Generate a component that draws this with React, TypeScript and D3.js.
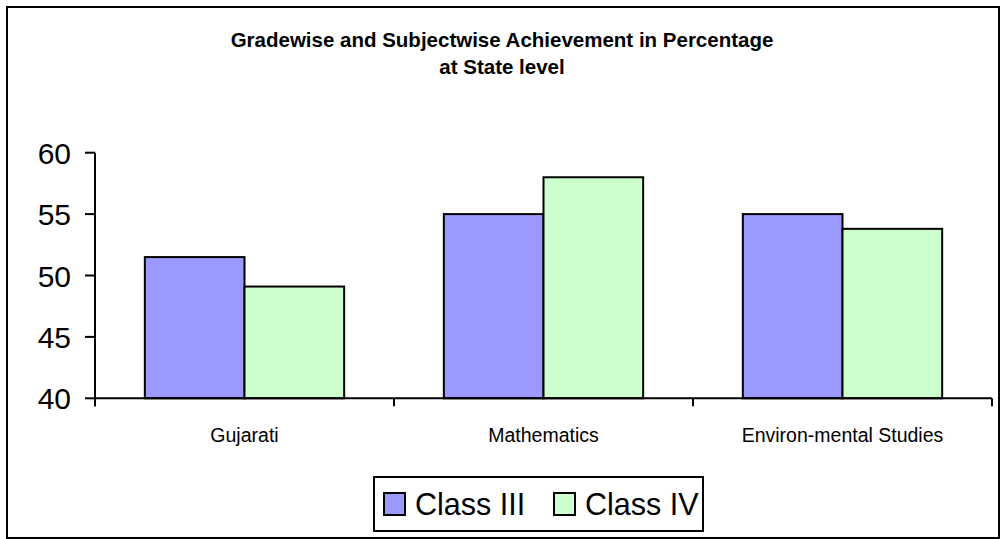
import React from "react";
import * as d3 from "d3";

const categories = ["Gujarati", "Mathematics", "Environ-mental Studies"];
const seriesNames = ["Class III", "Class IV"];
const classIII = [51.5, 55, 55];
const classIV = [49.1, 58, 53.8];
const yTicks = [40, 45, 50, 55, 60];
const titleLines = ["Gradewise and Subjectwise Achievement in Percentage", "at State level"];

const colors = ["#9999FF", "#CCFFCC"];
const FONT = "'Liberation Sans', Arial, sans-serif";

export default function App() {
  const W = 1004;
  const H = 539;
  const left = 95;
  const right = 992;
  const top = 152.7;
  const bottom = 398.3;

  const x = d3.scaleBand<string>().domain(categories).range([left, right]).paddingInner(0).paddingOuter(0);
  const y = d3.scaleLinear().domain([40, 60]).range([bottom, top]);
  const bw = x.bandwidth();
  const barW = bw / 3;
  const series = [classIII, classIV];

  const catTicks = [left, ...categories.map((c) => (x(c) as number) + bw)];

  return (
    <svg width={W} height={H} style={{ position: "absolute", left: 0, top: 0 }} fontFamily={FONT}>
      <rect x={0} y={0} width={W} height={H} fill="#fff" />
      <rect x={7} y={7} width={992} height={531} fill="none" stroke="#000" strokeWidth={2} />
      {titleLines.map((t, i) => (
        <text key={i} x={502} y={47 + i * 27} textAnchor="middle" fontWeight="bold" fontSize={20.5} fill="#000">
          {t}
        </text>
      ))}
      {/* bars */}
      {categories.map((c, ci) =>
        series.map((s, si) => {
          const x0 = (x(c) as number) + bw / 6 + si * barW;
          return (
            <rect
              key={c + si}
              x={x0}
              y={y(s[ci])}
              width={barW}
              height={bottom - y(s[ci])}
              fill={colors[si]}
              stroke="#000"
              strokeWidth={2}
            />
          );
        })
      )}
      {/* y axis */}
      <line x1={left} x2={left} y1={top} y2={bottom + 8} stroke="#000" strokeWidth={2} />
      {yTicks.map((t) => (
        <g key={t}>
          <line x1={left - 10} x2={left} y1={y(t)} y2={y(t)} stroke="#000" strokeWidth={2} />
          <text x={71} y={y(t) + 11} textAnchor="end" fontSize={30} fill="#000">
            {t}
          </text>
        </g>
      ))}
      {/* x axis */}
      <line x1={left} x2={right} y1={bottom} y2={bottom} stroke="#000" strokeWidth={2} />
      {catTicks.map((tx, i) => (
        <line key={i} x1={tx} x2={tx} y1={bottom} y2={bottom + 8} stroke="#000" strokeWidth={2} />
      ))}
      {categories.map((c) => (
        <text key={c} x={(x(c) as number) + bw / 2} y={442} textAnchor="middle" fontSize={19.5} fill="#000">
          {c}
        </text>
      ))}
      {/* legend */}
      <rect x={374} y={477} width={329} height={54} fill="#fff" stroke="#000" strokeWidth={2} />
      {seriesNames.map((n, i) => {
        const lx = i === 0 ? 384 : 554;
        return (
          <g key={n}>
            <rect x={lx} y={493} width={21} height={22} fill={colors[i]} stroke="#000" strokeWidth={2} />
            <text x={lx + 31} y={515} fontSize={30.5} fill="#000">
              {n}
            </text>
          </g>
        );
      })}
    </svg>
  );
}
